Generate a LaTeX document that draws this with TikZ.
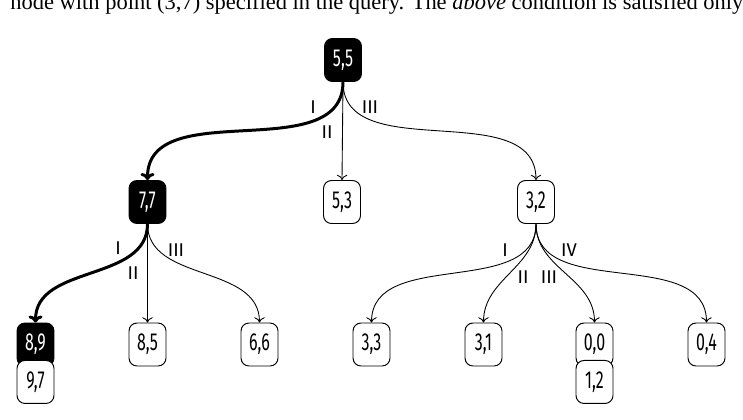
\documentclass[tikz,border=0pt]{standalone}
\usepackage{fontspec}
\setmainfont{Liberation Serif}
\newfontfamily\keyfont[FakeStretch=0.65]{Fira Sans}
\newfontfamily\quadfont{Fira Sans}
\usetikzlibrary{arrows.meta,positioning}

\begin{document}
\begin{tikzpicture}[x=0.02cm,y=-0.02cm,
    pnode/.style={draw,fill=white,rounded corners=0.16cm,line width=0.55pt,
      minimum width=0.74cm,minimum height=0.86cm,inner sep=0pt,
      font=\keyfont\fontsize{14}{14}\selectfont},
    hitnode/.style={pnode,fill=black,text=white},
    quadlbl/.style={inner sep=0pt,font=\quadfont\fontsize{10.5}{10.5}\selectfont},
    sub/.style={line width=0.5pt,-{To[length=3pt,width=6pt]}},
    walk/.style={line width=1.7pt,-{To[length=4pt,width=8pt]}}]
    \clip (0,0) rectangle (743,419);
    \node[anchor=base west,inner sep=0pt,font=\fontsize{12.8}{13}\selectfont] (txt) at (10,10)
      {node with point (3,7) specified in the query. The \emph{above} condition is satisfied only};

    \node[hitnode] (n55) at (343,60) {5,5};
    \node[hitnode] (n77) at (147.5,202) {7,7};
    \node[pnode] (n53) at (342,202) {5,3};
    \node[pnode] (n32) at (536,202) {3,2};
    \node[hitnode] (n89) at (35.5,344.5) {8,9};
    \node[pnode] (n97) [below=-0.13cm of n89] {9,7};
    \node[pnode] (n85) at (147.5,344.5) {8,5};
    \node[pnode] (n66) at (259.5,344.5) {6,6};
    \node[pnode] (n33) at (371.5,344.5) {3,3};
    \node[pnode] (n31) at (483.5,344.5) {3,1};
    \node[pnode] (n00) at (594.5,344.5) {0,0};
    \node[pnode] (n12) [below=-0.13cm of n00] {1,2};
    \node[pnode] (n04) at (706.5,344.5) {0,4};

    \draw[walk] (n55.south) to[out=-90,in=90] (n77.north);
    \draw[sub] (n55.south) -- (n53.north);
    \draw[sub] (n55.south) to[out=-90,in=90] (n32.north);
    \draw[walk] (n77.south) to[out=-90,in=90] (n89.north);
    \draw[sub] (n77.south) -- (n85.north);
    \draw[sub] (n77.south) to[out=-90,in=90] (n66.north);
    \draw[sub] (n32.south) to[out=-90,in=90] (n33.north);
    \draw[sub] (n32.south) to[out=-90,in=90] (n31.north);
    \draw[sub] (n32.south) to[out=-90,in=90] (n00.north);
    \draw[sub] (n32.south) to[out=-90,in=90] (n04.north);

    \node[quadlbl] (q55a) at (313,107) {I};
    \node[quadlbl] (q55b) at (327,132) {II};
    \node[quadlbl] (q55c) at (370,107) {III};
    \node[quadlbl] (q77a) at (118,248) {I};
    \node[quadlbl] (q77b) at (133,273) {II};
    \node[quadlbl] (q77c) at (176,250) {III};
    \node[quadlbl] (q32a) at (505,250) {I};
    \node[quadlbl] (q32b) at (523,277) {II};
    \node[quadlbl] (q32c) at (549,277) {III};
    \node[quadlbl] (q32d) at (569,250) {IV};
\end{tikzpicture}
\end{document}
